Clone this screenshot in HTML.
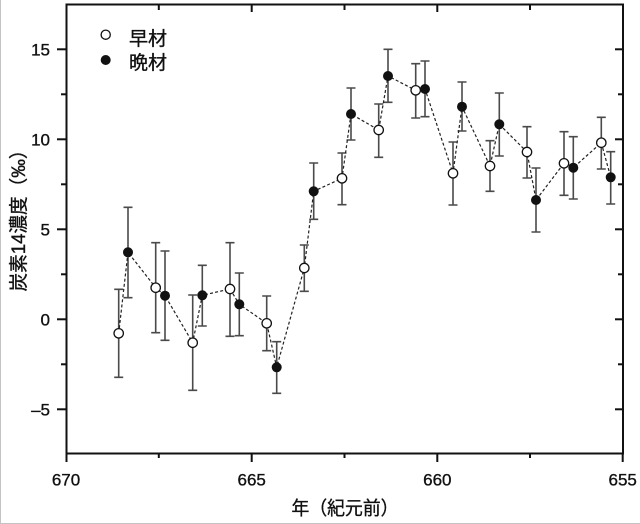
<!DOCTYPE html>
<html><head><meta charset="utf-8"><style>
html,body{margin:0;padding:0;background:#fff;}
svg{display:block;}
text{font-family:"Liberation Sans","Noto Sans CJK JP",sans-serif;fill:#111;stroke:#111;stroke-width:0.35px;}
</style></head><body>
<svg width="640" height="524" viewBox="0 0 640 524" xmlns="http://www.w3.org/2000/svg">
<rect x="0" y="0" width="640" height="524" fill="#fff"/>
<line x1="0.5" y1="0" x2="0.5" y2="524" stroke="#c4c4c4" stroke-width="1"/>
<line x1="0" y1="523.5" x2="640" y2="523.5" stroke="#c4c4c4" stroke-width="1"/>

<!-- frame -->
<g stroke="#111" stroke-width="2" fill="none">
<rect x="66.5" y="4.5" width="556.5" height="449"/>
<line x1="57" y1="49.3" x2="66" y2="49.3"/>
<line x1="57" y1="139.3" x2="66" y2="139.3"/>
<line x1="57" y1="229.3" x2="66" y2="229.3"/>
<line x1="57" y1="319.3" x2="66" y2="319.3"/>
<line x1="57" y1="409.3" x2="66" y2="409.3"/>
<line x1="61" y1="94.3" x2="66" y2="94.3"/>
<line x1="61" y1="184.3" x2="66" y2="184.3"/>
<line x1="61" y1="274.3" x2="66" y2="274.3"/>
<line x1="61" y1="364.3" x2="66" y2="364.3"/>
<line x1="615" y1="49.3" x2="623" y2="49.3"/>
<line x1="615" y1="139.3" x2="623" y2="139.3"/>
<line x1="615" y1="229.3" x2="623" y2="229.3"/>
<line x1="615" y1="319.3" x2="623" y2="319.3"/>
<line x1="615" y1="409.3" x2="623" y2="409.3"/>
<line x1="618" y1="94.3" x2="623" y2="94.3"/>
<line x1="618" y1="184.3" x2="623" y2="184.3"/>
<line x1="618" y1="274.3" x2="623" y2="274.3"/>
<line x1="618" y1="364.3" x2="623" y2="364.3"/>
<line x1="66.5" y1="453" x2="66.5" y2="462"/>
<line x1="251.7" y1="453" x2="251.7" y2="462"/>
<line x1="437.3" y1="453" x2="437.3" y2="462"/>
<line x1="622.7" y1="453" x2="622.7" y2="462"/>
<line x1="158.8" y1="453" x2="158.8" y2="458"/>
<line x1="344.5" y1="453" x2="344.5" y2="458"/>
<line x1="530" y1="453" x2="530" y2="458"/>
<line x1="158.8" y1="5" x2="158.8" y2="10"/>
<line x1="251.7" y1="5" x2="251.7" y2="12"/>
<line x1="344.5" y1="5" x2="344.5" y2="10"/>
<line x1="437.3" y1="5" x2="437.3" y2="12"/>
<line x1="530" y1="5" x2="530" y2="10"/>
</g>

<g font-size="17" text-anchor="end">
<text x="50" y="55.5">15</text>
<text x="50" y="145.5">10</text>
<text x="50" y="235.5">5</text>
<text x="50" y="325.5">0</text>
<text x="50" y="415.5">–5</text>
</g>
<g font-size="17" text-anchor="middle">
<text x="66" y="485.5">670</text>
<text x="251.7" y="485.5">665</text>
<text x="437.3" y="485.5">660</text>
<text x="622.7" y="485.5">655</text>
</g>

<text x="345" y="514.5" font-size="19" text-anchor="middle" textLength="107" lengthAdjust="spacingAndGlyphs">年（紀元前）</text>
<text transform="translate(25,216) rotate(-90)" x="0" y="0" font-size="19" text-anchor="middle" textLength="151" lengthAdjust="spacingAndGlyphs">炭素14濃度（‰）</text>

<circle cx="105.7" cy="34.7" r="4.6" fill="#fff" stroke="#111" stroke-width="1.3"/>
<circle cx="105.7" cy="60" r="5" fill="#111"/>
<text x="129" y="45" font-size="19">早材</text>
<text x="129" y="69" font-size="19">晩材</text>

<g stroke="#4a4a4a" stroke-width="1.6" fill="none">
<path d="M118.7 289.3V377.3M114.2 289.3H123.2M114.2 377.3H123.2"/>
<path d="M128 207.3V297.7M123.5 207.3H132.5M123.5 297.7H132.5"/>
<path d="M155.7 242.7V332.7M151.2 242.7H160.2M151.2 332.7H160.2"/>
<path d="M165 251V340.3M160.5 251H169.5M160.5 340.3H169.5"/>
<path d="M192.7 295V390.3M188.2 295H197.2M188.2 390.3H197.2"/>
<path d="M202.3 265.3V326M197.8 265.3H206.8M197.8 326H206.8"/>
<path d="M230 242.7V336.3M225.5 242.7H234.5M225.5 336.3H234.5"/>
<path d="M239.3 273V335.7M234.8 273H243.8M234.8 335.7H243.8"/>
<path d="M266.7 296V350.7M262.2 296H271.2M262.2 350.7H271.2"/>
<path d="M276.7 341.7V393.3M272.2 341.7H281.2M272.2 393.3H281.2"/>
<path d="M304.3 245V291.3M299.8 245H308.8M299.8 291.3H308.8"/>
<path d="M313.7 163V219.3M309.2 163H318.2M309.2 219.3H318.2"/>
<path d="M342 153V204.7M337.5 153H346.5M337.5 204.7H346.5"/>
<path d="M351 88V140M346.5 88H355.5M346.5 140H355.5"/>
<path d="M378.7 104V157.3M374.2 104H383.2M374.2 157.3H383.2"/>
<path d="M388 49.3V102.3M383.5 49.3H392.5M383.5 102.3H392.5"/>
<path d="M415.7 63.7V118M411.2 63.7H420.2M411.2 118H420.2"/>
<path d="M425 61V116.7M420.5 61H429.5M420.5 116.7H429.5"/>
<path d="M453 142V205M448.5 142H457.5M448.5 205H457.5"/>
<path d="M462 82V131M457.5 82H466.5M457.5 131H466.5"/>
<path d="M490 140.7V191.3M485.5 140.7H494.5M485.5 191.3H494.5"/>
<path d="M499.3 93V156M494.8 93H503.8M494.8 156H503.8"/>
<path d="M527 126.7V178M522.5 126.7H531.5M522.5 178H531.5"/>
<path d="M536 168V232M531.5 168H540.5M531.5 232H540.5"/>
<path d="M564 131.7V195.3M559.5 131.7H568.5M559.5 195.3H568.5"/>
<path d="M573.3 136.7V199M568.8 136.7H577.8M568.8 199H577.8"/>
<path d="M601.3 117.3V169M596.8 117.3H605.8M596.8 169H605.8"/>
<path d="M610.7 151.7V204M606.2 151.7H615.2M606.2 204H615.2"/>
</g>

<polyline fill="none" stroke="#222" stroke-width="1.2" stroke-dasharray="3,2.2"
points="118.7,333.3 128,252.3 155.7,287.7 165,295.7 192.7,342.7 202.3,295.3 230,289 239.3,304.3 266.7,323.3 276.7,367.3 304.3,268 313.7,191.3 342,178.3 351,114 378.7,130 388,76 415.7,90.3 425,89 453,173.3 462,106.7 490,166 499.3,124.3 527,152 536,200 564,163.3 573.3,167.7 601.3,142.7 610.7,177.3"/>

<g fill="#fff" stroke="#111" stroke-width="1.3">
<circle cx="118.7" cy="333.3" r="4.7"/>
<circle cx="155.7" cy="287.7" r="4.7"/>
<circle cx="192.7" cy="342.7" r="4.7"/>
<circle cx="230" cy="289" r="4.7"/>
<circle cx="266.7" cy="323.3" r="4.7"/>
<circle cx="304.3" cy="268" r="4.7"/>
<circle cx="342" cy="178.3" r="4.7"/>
<circle cx="378.7" cy="130" r="4.7"/>
<circle cx="415.7" cy="90.3" r="4.7"/>
<circle cx="453" cy="173.3" r="4.7"/>
<circle cx="490" cy="166" r="4.7"/>
<circle cx="527" cy="152" r="4.7"/>
<circle cx="564" cy="163.3" r="4.7"/>
<circle cx="601.3" cy="142.7" r="4.7"/>
</g>
<g fill="#111">
<circle cx="128" cy="252.3" r="5"/>
<circle cx="165" cy="295.7" r="5"/>
<circle cx="202.3" cy="295.3" r="5"/>
<circle cx="239.3" cy="304.3" r="5"/>
<circle cx="276.7" cy="367.3" r="5"/>
<circle cx="313.7" cy="191.3" r="5"/>
<circle cx="351" cy="114" r="5"/>
<circle cx="388" cy="76" r="5"/>
<circle cx="425" cy="89" r="5"/>
<circle cx="462" cy="106.7" r="5"/>
<circle cx="499.3" cy="124.3" r="5"/>
<circle cx="536" cy="200" r="5"/>
<circle cx="573.3" cy="167.7" r="5"/>
<circle cx="610.7" cy="177.3" r="5"/>
</g>
</svg>
</body></html>
